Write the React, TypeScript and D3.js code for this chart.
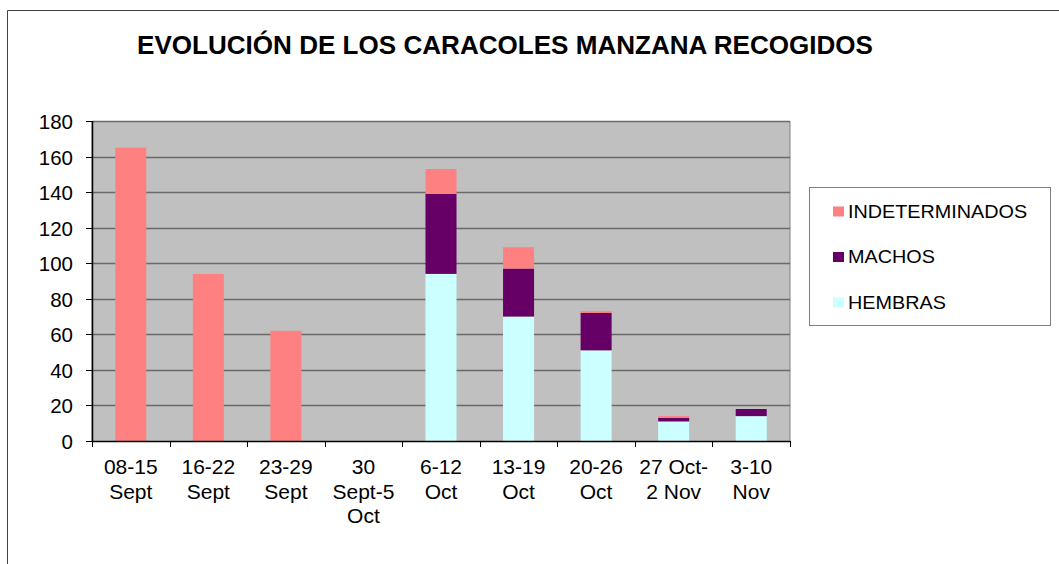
import React from "react";
import * as d3 from "d3";

const categories = [
  ["08-15", "Sept"],
  ["16-22", "Sept"],
  ["23-29", "Sept"],
  ["30", "Sept-5", "Oct"],
  ["6-12", "Oct"],
  ["13-19", "Oct"],
  ["20-26", "Oct"],
  ["27 Oct-", "2 Nov"],
  ["3-10", "Nov"],
];
const hembras = [0, 0, 0, 0, 94, 70, 51, 11, 14];
const machos = [0, 0, 0, 0, 45, 27, 21, 2, 4];
const indeterminados = [165, 94, 62, 0, 14, 12, 1, 1, 0];
const yTicks = [0, 20, 40, 60, 80, 100, 120, 140, 160, 180];

const seriesNames = ["HEMBRAS", "MACHOS", "INDETERMINADOS"];
const seriesColors = ["#CCFFFF", "#660066", "#FF8080"];
const legendOrder = ["INDETERMINADOS", "MACHOS", "HEMBRAS"];

const W = 1059;
const H = 564;
const plot = { left: 92, right: 790, top: 121, bottom: 441 };
const font = "Arial, 'Liberation Sans', sans-serif";

export default function App() {
  const rows = categories.map((c, i) => ({
    key: i,
    HEMBRAS: hembras[i],
    MACHOS: machos[i],
    INDETERMINADOS: indeterminados[i],
  }));

  const stacked = d3.stack<any>().keys(seriesNames)(rows);

  const x = d3
    .scaleBand<number>()
    .domain(categories.map((_, i) => i))
    .range([plot.left, plot.right])
    .paddingInner(0.6)
    .paddingOuter(0.3);

  const y = d3.scaleLinear().domain([0, 180]).range([plot.bottom, plot.top]);

  const step = x.step();
  const color = d3.scaleOrdinal<string>().domain(seriesNames).range(seriesColors);

  return (
    <svg
      width={W}
      height={H}
      style={{ position: "absolute", left: 0, top: 0, background: "#fff" }}
      fontFamily={font}
    >
      {/* outer chart frame */}
      <line x1={7.5} y1={10.5} x2={W} y2={10.5} stroke="#404040" />
      <line x1={7.5} y1={10.5} x2={7.5} y2={H} stroke="#404040" />

      <text
        x={137}
        y={54}
        fontSize={26}
        fontWeight="bold"
        fill="#000"
        textLength={736}
        lengthAdjust="spacingAndGlyphs"
      >
        EVOLUCIÓN DE LOS CARACOLES MANZANA RECOGIDOS
      </text>

      {/* plot area */}
      <rect
        x={plot.left}
        y={plot.top + 0.5}
        width={plot.right - plot.left}
        height={plot.bottom - plot.top}
        fill="#C0C0C0"
        stroke="#808080"
      />
      {yTicks.slice(1).map((t) => (
        <line
          key={t}
          x1={plot.left}
          x2={plot.right}
          y1={Math.round(y(t)) + 0.5}
          y2={Math.round(y(t)) + 0.5}
          stroke="#6a6a6a"
          strokeWidth={1.5}
        />
      ))}

      {stacked.map((s) =>
        s.map((d, i) =>
          d[1] - d[0] > 0 ? (
            <rect
              key={s.key + i}
              x={x(i)}
              y={y(d[1])}
              width={x.bandwidth()}
              height={y(d[0]) - y(d[1])}
              fill={color(s.key)}
            />
          ) : null
        )
      )}

      {/* axes */}
      <line x1={plot.left} x2={plot.right} y1={plot.bottom + 0.5} y2={plot.bottom + 0.5} stroke="#000" strokeWidth={1.5} />
      <line x1={plot.left + 0.5} x2={plot.left + 0.5} y1={plot.top} y2={plot.bottom} stroke="#000" strokeWidth={1.5} />

      {yTicks.map((t) => (
        <g key={t} transform={`translate(0,${Math.round(y(t)) + 0.5})`}>
          <line x1={86} x2={plot.left} stroke="#000" />
          <text x={73} dy="0.36em" textAnchor="end" fontSize={20.5} fill="#000">
            {t}
          </text>
        </g>
      ))}

      {categories.map((_, i) => (
        <line
          key={"t" + i}
          x1={Math.round(plot.left + i * step) + 0.5}
          x2={Math.round(plot.left + i * step) + 0.5}
          y1={plot.bottom}
          y2={plot.bottom + 6}
          stroke="#000"
        />
      ))}
      <line
        x1={plot.right + 0.5}
        x2={plot.right + 0.5}
        y1={plot.bottom}
        y2={plot.bottom + 6}
        stroke="#000"
      />

      {categories.map((lines, i) => (
        <text
          key={"c" + i}
          x={(x(i) as number) + x.bandwidth() / 2}
          y={474}
          textAnchor="middle"
          fontSize={21}
          fill="#000"
        >
          {lines.map((l, j) => (
            <tspan key={j} x={(x(i) as number) + x.bandwidth() / 2} y={474 + j * 24.5}>
              {l}
            </tspan>
          ))}
        </text>
      ))}

      {/* legend */}
      <rect x={809.5} y={187.5} width={241} height={138} fill="#fff" stroke="#808080" />
      {legendOrder.map((name, i) => (
        <g key={name} transform={`translate(833,${211.5 + i * 45.5})`}>
          <rect x={0} y={-5} width={11} height={10} fill={color(name)} />
          <text
            transform="translate(15,0) scale(1.1,1)"
            dy="0.36em"
            fontSize={18}
            fill="#000"
          >
            {name}
          </text>
        </g>
      ))}
    </svg>
  );
}
